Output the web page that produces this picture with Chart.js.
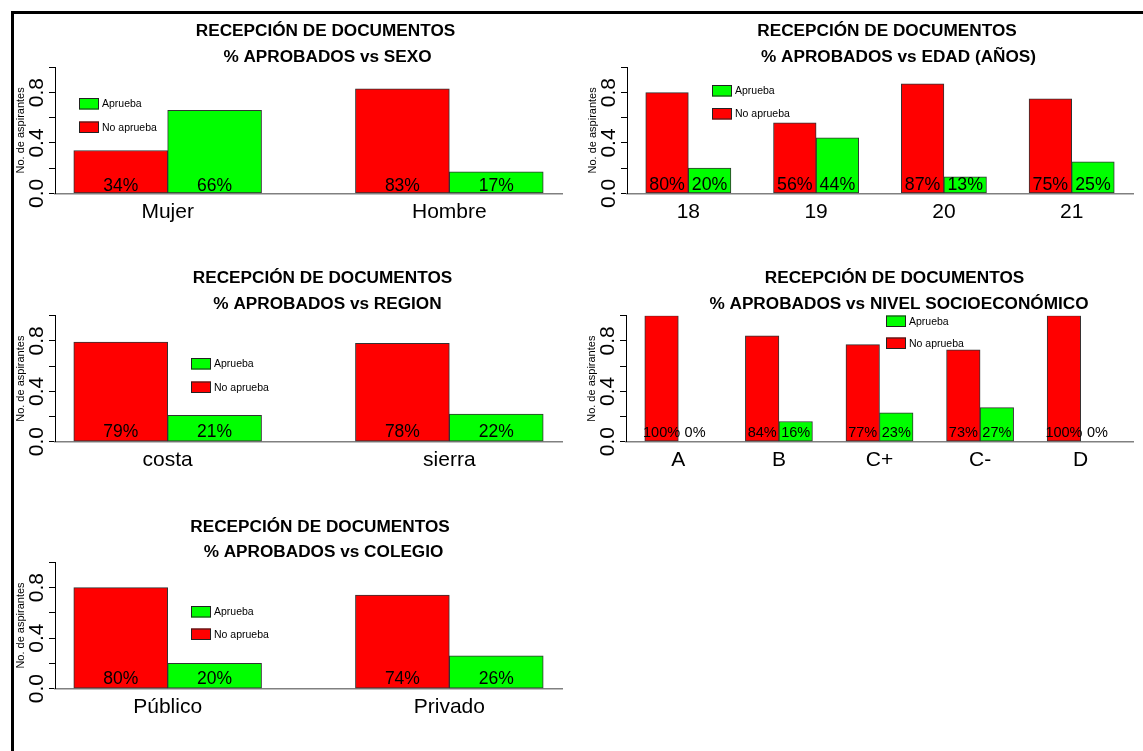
<!DOCTYPE html>
<html>
<head>
<meta charset="utf-8">
<script src="https://cdn.jsdelivr.net/npm/chart.js@4.4.1/dist/chart.umd.min.js"></script>
<style>
html,body{margin:0;padding:0;background:#fff;}
#wrap{position:relative;width:1143px;height:751px;overflow:hidden;background:#fff;}
#wrap canvas{position:absolute;left:0;top:0;}
#frame{position:absolute;left:11px;top:11px;width:1140px;height:750px;border-top:3px solid #000;border-left:3px solid #000;}
</style>
</head>
<body>
<div id="wrap">
<div id="frame"></div>
<canvas id="c1" width="1143" height="751"></canvas>
<canvas id="c2" width="1143" height="751"></canvas>
<canvas id="c3" width="1143" height="751"></canvas>
<canvas id="c4" width="1143" height="751"></canvas>
<canvas id="c5" width="1143" height="751"></canvas>
</div>
<script>
// ---------------- DATA ----------------
const tituloLinea1 = 'RECEPCIÓN DE DOCUMENTOS';
const leyendaEtiquetas = ['Aprueba', 'No aprueba'];
const ejeYTitulo = 'No. de aspirantes';
const yTickValues = [0, 0.2, 0.4, 0.6, 0.8, 1.0];
const yTickLabels = ['0.0', '', '0.4', '', '0.8', ''];

const sexoTitulo = '% APROBADOS vs SEXO';
const sexoCategorias = ['Mujer', 'Hombre'];
const sexoNoAprueba = [0.34, 0.83];
const sexoAprueba = [0.66, 0.17];

const edadTitulo = '% APROBADOS vs EDAD (AÑOS)';
const edadCategorias = ['18', '19', '20', '21'];
const edadNoAprueba = [0.80, 0.56, 0.87, 0.75];
const edadAprueba = [0.20, 0.44, 0.13, 0.25];

const regionTitulo = '% APROBADOS vs REGION';
const regionCategorias = ['costa', 'sierra'];
const regionNoAprueba = [0.79, 0.78];
const regionAprueba = [0.21, 0.22];

const nivelTitulo = '% APROBADOS vs NIVEL SOCIOECONÓMICO';
const nivelCategorias = ['A', 'B', 'C+', 'C-', 'D'];
const nivelNoAprueba = [1.00, 0.84, 0.77, 0.73, 1.00];
const nivelAprueba = [0.00, 0.16, 0.23, 0.27, 0.00];

const colegioTitulo = '% APROBADOS vs COLEGIO';
const colegioCategorias = ['Público', 'Privado'];
const colegioNoAprueba = [0.80, 0.74];
const colegioAprueba = [0.20, 0.26];

// ---------------- STYLE ----------------
const FONT = '"Liberation Sans", Arial, Helvetica, sans-serif';
const RED = '#FF0000';
const GREEN = '#00FF00';
const W = 1143, H = 751;
const Y_AXIS_W = 45, X_AXIS_H = 40;

const decorPlugin = {
  id: 'decor',
  afterDatasetsDraw(chart, args, o) {
    const ctx = chart.ctx;
    const yS = chart.scales.y;
    const y0 = yS.getPixelForValue(0);
    ctx.save();
    // value labels
    ctx.fillStyle = '#000';
    ctx.textAlign = 'center';
    ctx.textBaseline = 'alphabetic';
    ctx.font = o.valueFont + 'px ' + FONT;
    chart.data.datasets.forEach((ds, di) => {
      const meta = chart.getDatasetMeta(di);
      meta.data.forEach((el, i) => {
        const v = ds.data[i].y;
        ctx.fillText(Math.round(v * 100) + '%', el.x, y0 - o.valueLift);
      });
    });
    // legend (Aprueba green on top, No aprueba red below)
    const cols = [GREEN, RED];
    const ys = [o.legY1, o.legY2];
    ctx.font = '10.5px ' + FONT;
    ctx.textAlign = 'left';
    ctx.textBaseline = 'middle';
    for (let k = 0; k < 2; k++) {
      ctx.fillStyle = cols[k];
      ctx.fillRect(o.legX, ys[k], 20, 11.5);
      ctx.strokeStyle = '#222';
      ctx.lineWidth = 1;
      ctx.strokeRect(o.legX + 0.5, ys[k] + 0.5, 19, 10.5);
      ctx.fillStyle = '#000';
      ctx.fillText(leyendaEtiquetas[k], o.legX + 23, ys[k] + 6.5);
    }
    // titles
    ctx.font = 'bold 17.2px ' + FONT;
    ctx.textAlign = 'center';
    ctx.textBaseline = 'alphabetic';
    ctx.fillStyle = '#000';
    o.titles.forEach(t => ctx.fillText(t.text, t.cx, t.base));
    ctx.restore();
  }
};

function makePanel(id, cats, noAp, ap, L) {
  const n = cats.length;
  const R = 3 * n - 1;
  const xmin = 1 - 0.04 * R, xmax = 3 * n + 0.04 * R;
  const redData = noAp.map((v, k) => ({ x: 3 * k + 1.5, y: v }));
  const greenData = ap.map((v, k) => ({ x: 3 * k + 2.5, y: v }));
  const barOpts = {
    borderColor: '#333333', borderWidth: 1, borderSkipped: false,
    grouped: false, categoryPercentage: 1, barPercentage: 1
  };
  return new Chart(document.getElementById(id), {
    type: 'bar',
    data: {
      datasets: [
        Object.assign({ label: leyendaEtiquetas[1], data: redData, backgroundColor: RED }, barOpts),
        Object.assign({ label: leyendaEtiquetas[0], data: greenData, backgroundColor: GREEN }, barOpts)
      ]
    },
    options: {
      responsive: false,
      animation: false,
      events: [],
      layout: {
        padding: {
          left: L.left - Y_AXIS_W,
          right: W - L.right,
          top: L.y1,
          bottom: H - L.y0 - X_AXIS_H
        }
      },
      scales: {
        x: {
          type: 'linear',
          offset: false,
          min: xmin, max: xmax,
          afterBuildTicks: s => { s.ticks = cats.map((c, k) => ({ value: 3 * k + 2 })); },
          afterFit: s => { s.height = X_AXIS_H; },
          grid: { display: false, offset: false },
          border: { display: true, color: '#808080', width: 1.5 },
          ticks: {
            autoSkip: false, maxRotation: 0, minRotation: 0,
            color: '#000', padding: -2,
            font: { family: FONT, size: 21 },
            callback: (v, i) => cats[i]
          }
        },
        y: {
          type: 'linear',
          min: 0, max: 1,
          afterBuildTicks: s => { s.ticks = yTickValues.map(v => ({ value: v })); },
          afterFit: s => { s.width = Y_AXIS_W; },
          grid: { drawOnChartArea: false, drawTicks: true, tickLength: 6, color: '#000', lineWidth: 1 },
          border: { display: true, color: '#000', width: 1 },
          ticks: {
            autoSkip: false, minRotation: 90, maxRotation: 90,
            crossAlign: 'center', padding: -3, color: '#000',
            font: { family: FONT, size: 21 },
            callback: (v, i) => yTickLabels[i]
          },
          title: {
            display: true, text: ejeYTitulo, color: '#000',
            font: { family: FONT, size: 11 }, padding: 4
          }
        }
      },
      plugins: {
        legend: { display: false },
        tooltip: { enabled: false },
        decor: {
          valueFont: L.valueFont, valueLift: L.valueLift,
          legX: L.legX, legY1: L.legY1, legY2: L.legY2,
          titles: L.titles
        }
      }
    },
    plugins: [decorPlugin]
  });
}

makePanel('c1', sexoCategorias, sexoNoAprueba, sexoAprueba, {
  left: 55, right: 562, y0: 193.3, y1: 67.5,
  legX: 79, legY1: 98, legY2: 121.5,
  valueFont: 17.5, valueLift: 2.6,
  titles: [{ text: tituloLinea1, cx: 325.5, base: 36 }, { text: sexoTitulo, cx: 327.5, base: 62 }]
});
makePanel('c2', edadCategorias, edadNoAprueba, edadAprueba, {
  left: 627, right: 1133, y0: 193.3, y1: 67.5,
  legX: 712, legY1: 85, legY2: 108,
  valueFont: 17.8, valueLift: 3.3,
  titles: [{ text: tituloLinea1, cx: 887, base: 36 }, { text: edadTitulo, cx: 898.5, base: 62 }]
});
makePanel('c3', regionCategorias, regionNoAprueba, regionAprueba, {
  left: 55, right: 562, y0: 441.7, y1: 315.7,
  legX: 191, legY1: 358, legY2: 381.5,
  valueFont: 17.5, valueLift: 4.4,
  titles: [{ text: tituloLinea1, cx: 322.5, base: 283 }, { text: regionTitulo, cx: 327.5, base: 309 }]
});
makePanel('c4', nivelCategorias, nivelNoAprueba, nivelAprueba, {
  left: 626, right: 1133, y0: 441.7, y1: 315.7,
  legX: 886, legY1: 315.5, legY2: 337.5,
  valueFont: 14.5, valueLift: 4.7,
  titles: [{ text: tituloLinea1, cx: 894.5, base: 283 }, { text: nivelTitulo, cx: 899, base: 308.5 }]
});
makePanel('c5', colegioCategorias, colegioNoAprueba, colegioAprueba, {
  left: 55, right: 562, y0: 688.7, y1: 562.3,
  legX: 191, legY1: 606, legY2: 628.5,
  valueFont: 17.5, valueLift: 4.4,
  titles: [{ text: tituloLinea1, cx: 320, base: 532 }, { text: colegioTitulo, cx: 323.5, base: 557 }]
});
</script>
</body>
</html>
